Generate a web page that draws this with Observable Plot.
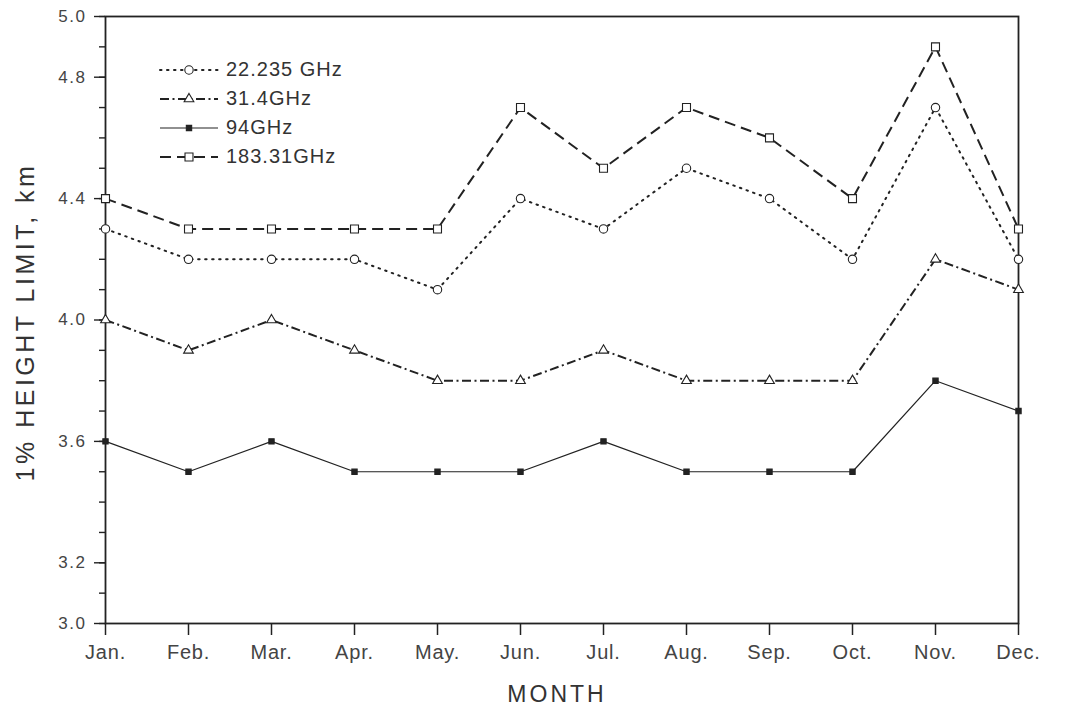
<!DOCTYPE html>
<html><head><meta charset="utf-8">
<script src="https://cdn.jsdelivr.net/npm/d3@7"></script>
<script src="https://cdn.jsdelivr.net/npm/@observablehq/plot@0.6"></script>
<style>
body{margin:0;background:#fff;}
#wrap{position:relative;width:1071px;height:709px;font-family:"Liberation Sans",Arial,sans-serif;}
#wrap svg text{letter-spacing:0.8px;}
#wrap svg .ytl text{letter-spacing:1.5px;}
#wrap svg .ylab text{letter-spacing:3.5px;}
#wrap svg .xlab text{letter-spacing:3px;}
#legend{position:absolute;left:158px;top:55px;font-size:20px;color:#333;letter-spacing:1px;}
#legend .row{display:flex;align-items:center;height:29px;}
#legend svg{margin-right:6px;}
</style></head><body><div id="wrap"><div id="legend"></div></div>
<script>
const months = ["Jan.","Feb.","Mar.","Apr.","May.","Jun.","Jul.","Aug.","Sep.","Oct.","Nov.","Dec."];
const seriesNames = ["22.235 GHz","31.4GHz","94GHz","183.31GHz"];
const v22 = [4.3,4.2,4.2,4.2,4.1,4.4,4.3,4.5,4.4,4.2,4.7,4.2];
const v31 = [4.0,3.9,4.0,3.9,3.8,3.8,3.9,3.8,3.8,3.8,4.2,4.1];
const v94 = [3.6,3.5,3.6,3.5,3.5,3.5,3.6,3.5,3.5,3.5,3.8,3.7];
const v183 = [4.4,4.3,4.3,4.3,4.3,4.7,4.5,4.7,4.6,4.4,4.9,4.3];
const yTickLabels = [3.0,3.2,3.6,4.0,4.4,4.8,5.0];
const yMinorTicks = [3.0,3.1,3.2,3.3,3.4,3.5,3.6,3.7,3.8,3.9,4.0,4.1,4.2,4.3,4.4,4.5,4.6,4.7,4.8,4.9,5.0];

const ink = "#222";
const styles = [
  {values:v22, dash:"1.5,5.5", width:2, cap:"round", symbol:"circle", r:4.2, fill:"white"},
  {values:v31, dash:"9,3.5,2,3.5", width:2, cap:"butt", symbol:"triangle", r:3.6, fill:"white"},
  {values:v94, dash:null, width:1.2, cap:"butt", symbol:"square", r:3, fill:ink},
  {values:v183, dash:"11,6", width:2, cap:"butt", symbol:"square", r:4.5, fill:"white"}
];

const marks = [];
styles.forEach((s, i) => {
  const data = months.map((m, j) => ({month:m, value:s.values[j], series:seriesNames[i]}));
  marks.push(Plot.lineY(data, {x:"month", y:"value", stroke:ink, strokeWidth:s.width, strokeDasharray:s.dash, strokeLinecap:s.cap}));
});
styles.forEach((s, i) => {
  const data = months.map((m, j) => ({month:m, value:s.values[j]}));
  marks.push(Plot.dot(data, {x:"month", y:"value", symbol:s.symbol, r:s.r, stroke:ink, strokeWidth:1.1, fill:s.fill}));
});

const chart = Plot.plot({
  width:1071, height:709,
  marginLeft:105, marginRight:53, marginTop:16, marginBottom:86,
  style:{fontFamily:"'Liberation Sans', Arial, sans-serif", color:"#333", background:"transparent"},
  x:{type:"point", domain:months, padding:0},
  y:{domain:[3,5]},
  marks:[
    Plot.axisY(yMinorTicks, {tickSize:6, stroke:ink, strokeWidth:1.4, tickFormat:() => "", label:null}),
    Plot.axisY(yTickLabels, {tickSize:11, stroke:ink, strokeWidth:1.4, tickFormat:() => "", label:null}),
    Plot.text(yTickLabels, {frameAnchor:"left", y:d => d, text:d3.format(".1f"), dx:-19, textAnchor:"end", fontSize:17, fill:"#444", className:"ytl"}),
    Plot.axisX({tickSize:12, tickPadding:9, fontSize:20, fill:"#444", stroke:ink, strokeWidth:1.5, label:null}),
    Plot.frame({stroke:ink, strokeWidth:1.8}),
    ...marks,
    Plot.text(["1% HEIGHT LIMIT, km"], {frameAnchor:"left", textAnchor:"middle", dx:-80, dy:2, rotate:-90, fontSize:25, fill:"#333", className:"ylab"}),
    Plot.text(["MONTH"], {frameAnchor:"bottom", dx:-5, dy:78, fontSize:23, fill:"#333", className:"xlab"})
  ]
});
document.getElementById("wrap").prepend(chart);

// legend
const legend = d3.select("#legend");
styles.forEach((s, i) => {
  const row = legend.append("div").attr("class","row");
  const svg = row.append("svg").attr("width",62).attr("height",20);
  svg.append("line").attr("x1",2).attr("x2",60).attr("y1",10).attr("y2",10)
    .attr("stroke",ink).attr("stroke-width",s.width).attr("stroke-dasharray",s.dash).attr("stroke-linecap",s.cap);
  const sym = {circle:d3.symbolCircle, triangle:d3.symbolTriangle, square:d3.symbolSquare}[s.symbol];
  const area = Math.PI*s.r*s.r;
  svg.append("path").attr("transform","translate(31,10)").attr("d", d3.symbol(sym, area)())
    .attr("stroke",ink).attr("stroke-width",1.1).attr("fill",s.fill);
  row.append("span").text(seriesNames[i]);
});
</script>
</body></html>
